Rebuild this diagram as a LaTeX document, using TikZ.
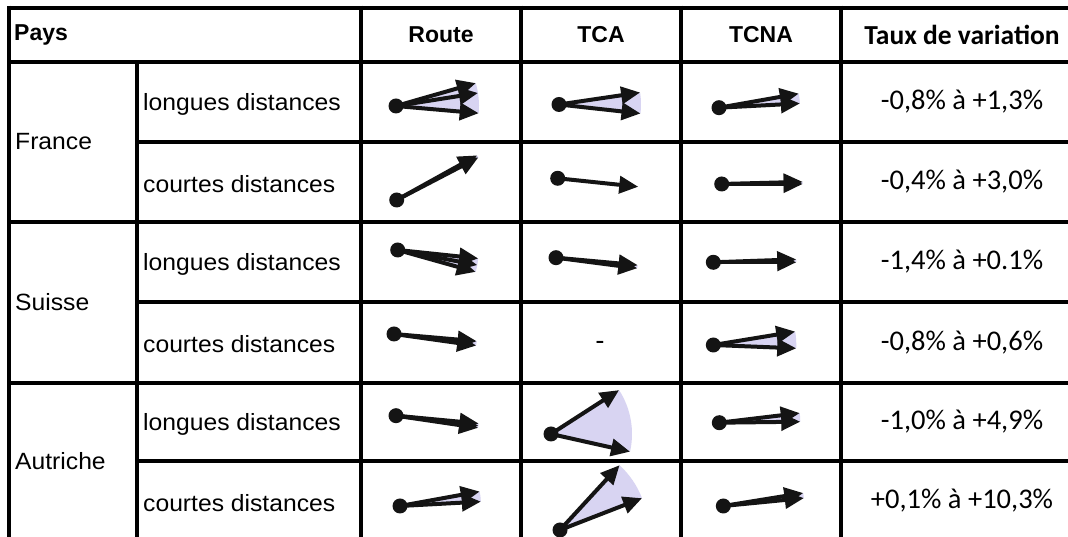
\documentclass[tikz,border=0pt]{standalone}
\usepackage{fontspec}
\usetikzlibrary{arrows.meta,calc}
\newfontfamily\arialR{Liberation Sans}[FakeStretch=1.05]
\newfontfamily\arialH{Liberation Sans}
\newfontfamily\cali{Carlito}
\definecolor{fanlav}{RGB}{216,212,242}
\definecolor{ink}{RGB}{20,20,20}
\tikzset{
  gridline/.style={line width=4.6pt, black},
  fanfill/.style={fill=fanlav},
  fanarrow/.style={line width=4pt, ink, -{Triangle[length=19pt,width=17pt]}},
  dot/.style={circle, fill=ink, inner sep=0pt, minimum size=15pt},
  hdr/.style={inner sep=0pt, font=\arialH\bfseries\fontsize{23}{27}\selectfont},
  hdrc/.style={inner sep=0pt, font=\cali\bfseries\fontsize{27.5}{32}\selectfont},
  lbl/.style={inner sep=0pt, anchor=west, font=\arialR\fontsize{23.5}{27}\selectfont},
  val/.style={inner sep=0pt, font=\cali\fontsize{28.5}{34}\selectfont}
}
% #1 name, #2 origin, #3 radius, #4 min angle, #5 max angle, #6 list of angles
\newcommand\fanplot[6]{%
  \coordinate (#1) at #2;
  \fill[fanfill] (#1) -- ++(#4:#3) arc[start angle=#4, end angle=#5, radius=#3] -- cycle;
  \foreach \a [count=\i] in {#6} {
    \coordinate (#1-t\i) at ($(#1)+(\a:#3)$);
    \draw[fanarrow] (#1) -- (#1-t\i);
  }
  \node[dot] (#1-dot) at (#1) {};
}
\begin{document}
\begin{tikzpicture}[x=1pt,y=1pt]
\useasboundingbox (0,0) rectangle (1068,537);
\fill[white] (0,0) rectangle (1068,537);
% grid
\draw[gridline] (9,529) -- (1068,529);
\draw[gridline] (9,475) -- (1068,475);
\draw[gridline] (137,395) -- (1068,395);
\draw[gridline] (9,315) -- (1068,315);
\draw[gridline] (137,235) -- (1068,235);
\draw[gridline] (9,154) -- (1068,154);
\draw[gridline] (137,76) -- (1068,76);
\draw[gridline] (9,531.3) -- (9,0);
\draw[gridline] (137,475) -- (137,0);
\draw[gridline] (361,531.3) -- (361,0);
\draw[gridline] (521,531.3) -- (521,0);
\draw[gridline] (681,531.3) -- (681,0);
\draw[gridline] (841,531.3) -- (841,0);
% header
\node[hdr, anchor=west] (hpays) at (14,502) {Pays};
\node[hdr] (hroute) at (441,502) {Route};
\node[hdr] (htca) at (601,502) {TCA};
\node[hdr] (htcna) at (761,502) {TCNA};
\node[hdrc] (htaux) at (962,502) {Taux de variation};
% countries
\node[lbl] (cfr) at (15,395) {France};
\node[lbl] (cch) at (15,235) {Suisse};
\node[lbl] (cat) at (15,76) {Autriche};
% sub labels
\node[lbl] (s1) at (143,433) {longues distances};
\node[lbl] (s2) at (143,353) {courtes distances};
\node[lbl] (s3) at (143,273) {longues distances};
\node[lbl] (s4) at (143,192.5) {courtes distances};
\node[lbl] (s5) at (143,113) {longues distances};
\node[lbl] (s6) at (143,34) {courtes distances};
% values
\node[val] (v1) at (962,435) {-0,8\% à +1,3\%};
\node[val] (v2) at (962,355) {-0,4\% à +3,0\%};
\node[val] (v3) at (962,275) {-1,4\% à +0.1\%};
\node[val] (v4) at (962,194.5) {-0,8\% à +0,6\%};
\node[val] (v5) at (962,115) {-1,0\% à +4,9\%};
\node[val] (v6) at (962,36) {+0,1\% à +10,3\%};
% fans
\fanplot{flr}{(396,431)}{83}{-5}{16}{16,9,-5}
\fanplot{flt}{(559,432.5)}{82}{-6.3}{8.4}{8.4,-6.3}
\fanplot{fln}{(719,429.3)}{81}{3}{10}{10,3}
\fanplot{fcr}{(396.7,337)}{92}{27.5}{29}{27.5,29}
\fanplot{fct}{(557.7,358.7)}{81}{-6}{-6}{-6}
\fanplot{fcn}{(721.7,353)}{81}{0}{1.5}{1.5,0}
\fanplot{slr}{(397.7,287)}{81}{-15.7}{-6}{-6,-10.7,-15.7}
\fanplot{slt}{(556,279.3)}{82}{-7.4}{-5.2}{-5.2,-7.4}
\fanplot{sln}{(713.3,274.7)}{83}{0}{2}{2,0}
\fanplot{scr}{(394,203)}{83}{-8}{-5}{-5,-8}
\node[val] (sct) at (600,191.3) {-};
\fanplot{scn}{(713.3,192)}{83}{-2.3}{9.3}{9.3,-2.3}
\fanplot{alr}{(396,121.3)}{83}{-8.4}{-5.4}{-5.4,-7,-8.4}
\fanplot{alt}{(551,103)}{81}{-12.6}{32.8}{32.8,-12.6}
\fanplot{aln}{(719.3,114.3)}{81}{0.7}{6.8}{6.8,0.7}
\fanplot{acr}{(400,31)}{81}{3.1}{10.3}{10.3,3.1}
\fanplot{act}{(560,7)}{88}{21.2}{47.4}{47.4,21.2}
\fanplot{acn}{(723.3,31)}{81}{5.6}{9.2}{9.2,5.6}
\end{tikzpicture}
\end{document}
